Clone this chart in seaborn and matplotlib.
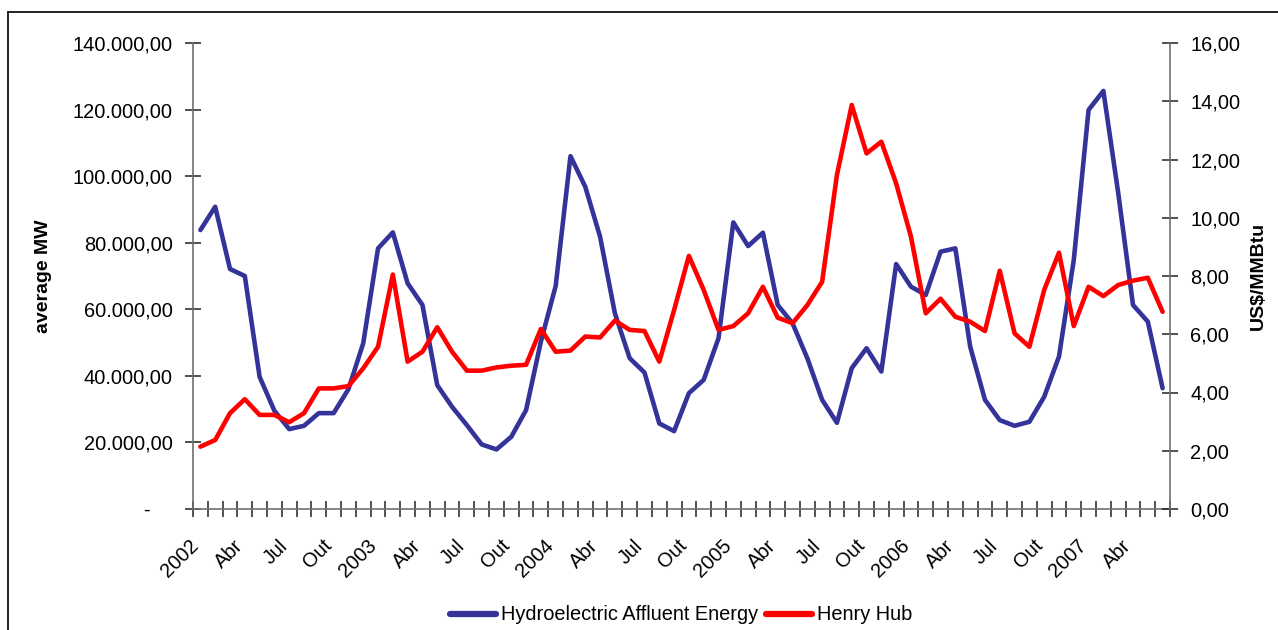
import numpy as np
import pandas as pd
import matplotlib
matplotlib.use("Agg")
import matplotlib.pyplot as plt
import matplotlib.transforms as mtransforms
import seaborn as sns
from matplotlib.lines import Line2D
from matplotlib.ticker import FuncFormatter, FixedLocator

# ---------------- data (monthly, Jan 2002 - Jun 2007) ----------------
hydro = [83800, 90800, 72100, 70000, 39700, 29500, 24000, 25000, 28800, 28800,
         36000, 49800, 78300, 83100, 67800, 61300, 37200, 30700, 25200, 19400,
         17900, 21700, 29700, 50300, 67000, 106000, 96800, 81800, 58800, 45300,
         41000, 25700, 23400, 34800, 38800, 51300, 86100, 79000, 83000, 61300,
         55800, 45300, 32800, 25900, 42300, 48300, 41300, 73600, 66800, 64300,
         77300, 78300, 48800, 32800, 26700, 25000, 26200, 33700, 45800, 74800,
         119900, 125600, 95000, 61300, 56300, 36300]
henry = [2.14, 2.37, 3.29, 3.77, 3.23, 3.23, 2.98, 3.29, 4.14, 4.14,
         4.22, 4.83, 5.57, 8.05, 5.06, 5.40, 6.24, 5.40, 4.75, 4.75,
         4.86, 4.92, 4.95, 6.18, 5.40, 5.44, 5.92, 5.89, 6.47, 6.15,
         6.11, 5.06, 6.83, 8.69, 7.52, 6.15, 6.28, 6.72, 7.63, 6.57,
         6.38, 7.00, 7.80, 11.47, 13.87, 12.21, 12.61, 11.18, 9.35, 6.72,
         7.22, 6.60, 6.43, 6.11, 8.18, 6.03, 5.57, 7.52, 8.80, 6.28,
         7.63, 7.31, 7.69, 7.84, 7.94, 6.77]
tick_labels = ["2002", "Abr", "Jul", "Out", "2003", "Abr", "Jul", "Out",
               "2004", "Abr", "Jul", "Out", "2005", "Abr", "Jul", "Out",
               "2006", "Abr", "Jul", "Out", "2007", "Abr"]
left_ticks = [0, 20000, 40000, 60000, 80000, 100000, 120000, 140000]
right_ticks = [0, 2, 4, 6, 8, 10, 12, 14, 16]
series_names = ["Hydroelectric Affluent Energy", "Henry Hub"]

BLUE = "#333399"
RED = "#ff0000"

sns.set_style("white")
plt.rcParams["font.family"] = ["Liberation Sans", "DejaVu Sans"]
plt.rcParams["text.color"] = "black"
plt.rcParams["axes.labelcolor"] = "black"
plt.rcParams["xtick.color"] = "black"
plt.rcParams["ytick.color"] = "black"
plt.rcParams["xtick.labelcolor"] = "black"
plt.rcParams["ytick.labelcolor"] = "black"

W, H = 1278, 630
fig = plt.figure(figsize=(W / 100, H / 100), dpi=100)
L, R, T, B = 193, 1170, 43, 509
ax = fig.add_axes([L / W, 1 - B / H, (R - L) / W, (B - T) / H])

n = len(hydro)
df = pd.DataFrame({"pos": np.arange(n) + 0.5, "hydro": hydro, "henry": henry})

sns.lineplot(data=df, x="pos", y="hydro", ax=ax, color=BLUE, linewidth=3.3,
             legend=False)
ax2 = ax.twinx()
sns.lineplot(data=df, x="pos", y="henry", ax=ax2, color=RED, linewidth=3.3,
             legend=False)

ax.set_xlim(0, n)
ax.set_ylim(0, 140000)
ax2.set_ylim(0, 16)

# spines
for a in (ax, ax2):
    for s in a.spines.values():
        s.set_visible(False)
    a.grid(False)
ax.spines["left"].set_visible(True)
ax.spines["bottom"].set_visible(True)
ax2.spines["right"].set_visible(True)
for s in (ax.spines["left"], ax.spines["bottom"], ax2.spines["right"]):
    s.set_color("#707070")
    s.set_linewidth(1.2)

# y ticks
def fmt_left(v, p):
    if abs(v) < 1e-9:
        return "-    "
    s = f"{v:,.2f}"
    return s.replace(",", "X").replace(".", ",").replace("X", ".")

def fmt_right(v, p):
    return f"{v:.2f}".replace(".", ",")

ax.yaxis.set_major_locator(FixedLocator(left_ticks))
ax.yaxis.set_major_formatter(FuncFormatter(fmt_left))
ax2.yaxis.set_major_locator(FixedLocator(right_ticks))
ax2.yaxis.set_major_formatter(FuncFormatter(fmt_right))

ax.tick_params(axis="y", which="major", direction="inout", length=11, width=1.1,
               color="#222222", labelsize=14.4, pad=9, left=True, labelleft=True)
ax2.tick_params(axis="y", which="major", direction="inout", length=11, width=1.1,
                color="#222222", labelsize=14.4, pad=9, right=True, labelright=True)

# x ticks: every month, labels every 3 months
xt = list(range(0, n + 1))
xl = []
for i in xt:
    if i % 3 == 0 and i // 3 < len(tick_labels):
        xl.append(tick_labels[i // 3])
    else:
        xl.append("")
ax.set_xticks(xt)
ax.set_xticklabels(xl, rotation=45, ha="right", va="top",
                   rotation_mode="anchor")
ax.tick_params(axis="x", which="major", direction="inout", length=11, width=1.1,
               color="#222222", labelsize=14.4, pad=14, bottom=True)
shift = mtransforms.ScaledTranslation(-4 / 100, 0, fig.dpi_scale_trans)
for lab in ax.get_xticklabels():
    lab.set_transform(lab.get_transform() + shift)

ax.set_xlabel("")
ax.set_ylabel("average MW", fontsize=14, fontweight="bold")
ax.yaxis.set_label_coords((52 - L) / (R - L), 0.5)
ax2.set_ylabel("US$/MMBtu", fontsize=14, fontweight="bold", rotation=90)
ax2.yaxis.set_label_coords((1250 - L) / (R - L), 0.5)

# legend
handles = [Line2D([], [], color=BLUE, lw=4.5), Line2D([], [], color=RED, lw=4.5)]
fig.legend(handles, series_names, loc="center",
           bbox_to_anchor=((L + R) / 2 / W, 1 - 615 / H), ncol=2, frameon=False,
           fontsize=14.4, handlelength=2.3, handletextpad=0.25, columnspacing=0.4)

# outer chart border (left and top edges visible)
fig.add_artist(Line2D([8 / W, 8 / W], [1 - 12 / H, 0], transform=fig.transFigure,
                      color="black", lw=1.2))
fig.add_artist(Line2D([8 / W, 1], [1 - 12 / H, 1 - 12 / H], transform=fig.transFigure,
                      color="black", lw=1.2))

fig.savefig("out.png", dpi=100, facecolor="white")
